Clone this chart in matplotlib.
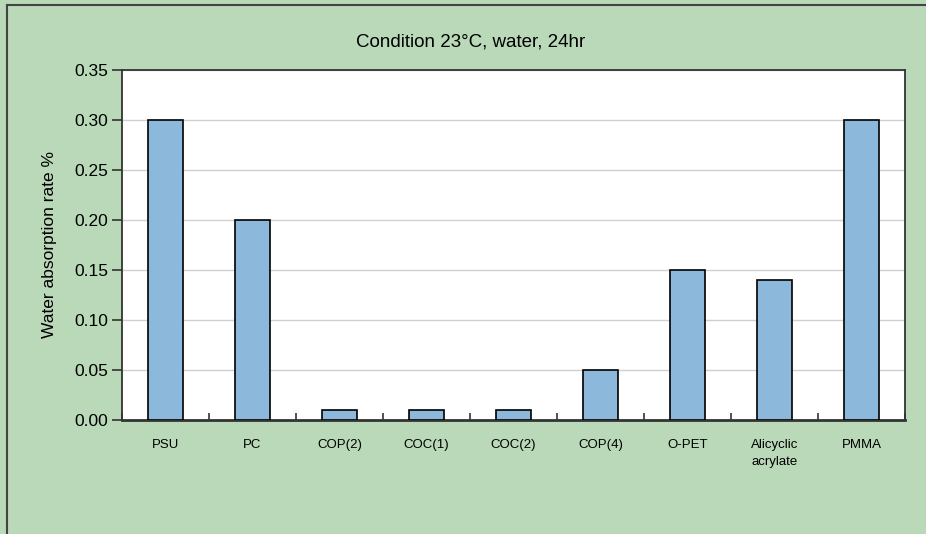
import matplotlib
matplotlib.use("Agg")
import matplotlib.pyplot as plt
import numpy as np
from matplotlib.lines import Line2D

# data
materials = ["PSU", "PC", "COP(2)", "COC(1)", "COC(2)", "COP(4)", "O-PET", "Alicyclic\nacrylate", "PMMA"]
absorption = [0.30, 0.20, 0.01, 0.01, 0.01, 0.05, 0.15, 0.14, 0.30]
yticks = [0.00, 0.05, 0.10, 0.15, 0.20, 0.25, 0.30, 0.35]

plt.rcParams['font.family'] = ['Liberation Sans', 'DejaVu Sans']
bg = "#b9d9b9"
barcol = "#8cb8dc"

fig = plt.figure(figsize=(9.26, 5.34), dpi=100, facecolor=bg)
ax = fig.add_axes([122/926, 114/534, 783/926, 350/534])
ax.set_facecolor("white")

x = np.arange(len(materials))
ax.bar(x, absorption, width=0.4, color=barcol, edgecolor="black", linewidth=1.2, zorder=3)

ax.set_xlim(-0.5, len(materials) - 0.5)
ax.set_ylim(0, 0.35)
ax.set_yticks(yticks)
ax.set_yticklabels(["%.2f" % v for v in yticks], fontsize=12.5)
ax.yaxis.grid(True, color="#d0d0d0", linewidth=1, zorder=0)
ax.tick_params(axis="y", direction="out", length=7, width=1.2, color="#333333", pad=3)

ax.set_xticks(x)
ax.set_xticklabels(materials, fontsize=9.5, linespacing=1.5, va="top")
ax.tick_params(axis="x", which="major", length=0, pad=14)
ax.set_xticks(np.arange(len(materials) + 1) - 0.5, minor=True)
ax.tick_params(axis="x", which="minor", direction="in", length=5, width=1.2, color="#333333")

for s in ax.spines.values():
    s.set_linewidth(1.3)
    s.set_color("#333333")
ax.spines["bottom"].set_linewidth(2)

ax.set_ylabel("Water absorption rate %", fontsize=12.5, labelpad=12)
fig.text(471/926, 1 - 42/534, "Condition 23°C, water, 24hr", ha="center", va="center", fontsize=13.5)

# frame lines at the left and top edges of the picture
fig.add_artist(Line2D([7/926, 7/926], [0, 1 - 5/534], color="#444444", linewidth=1.5, transform=fig.transFigure))
fig.add_artist(Line2D([7/926, 1], [1 - 5/534, 1 - 5/534], color="#444444", linewidth=1.5, transform=fig.transFigure))

fig.savefig("out.png", dpi=100, facecolor=bg)
